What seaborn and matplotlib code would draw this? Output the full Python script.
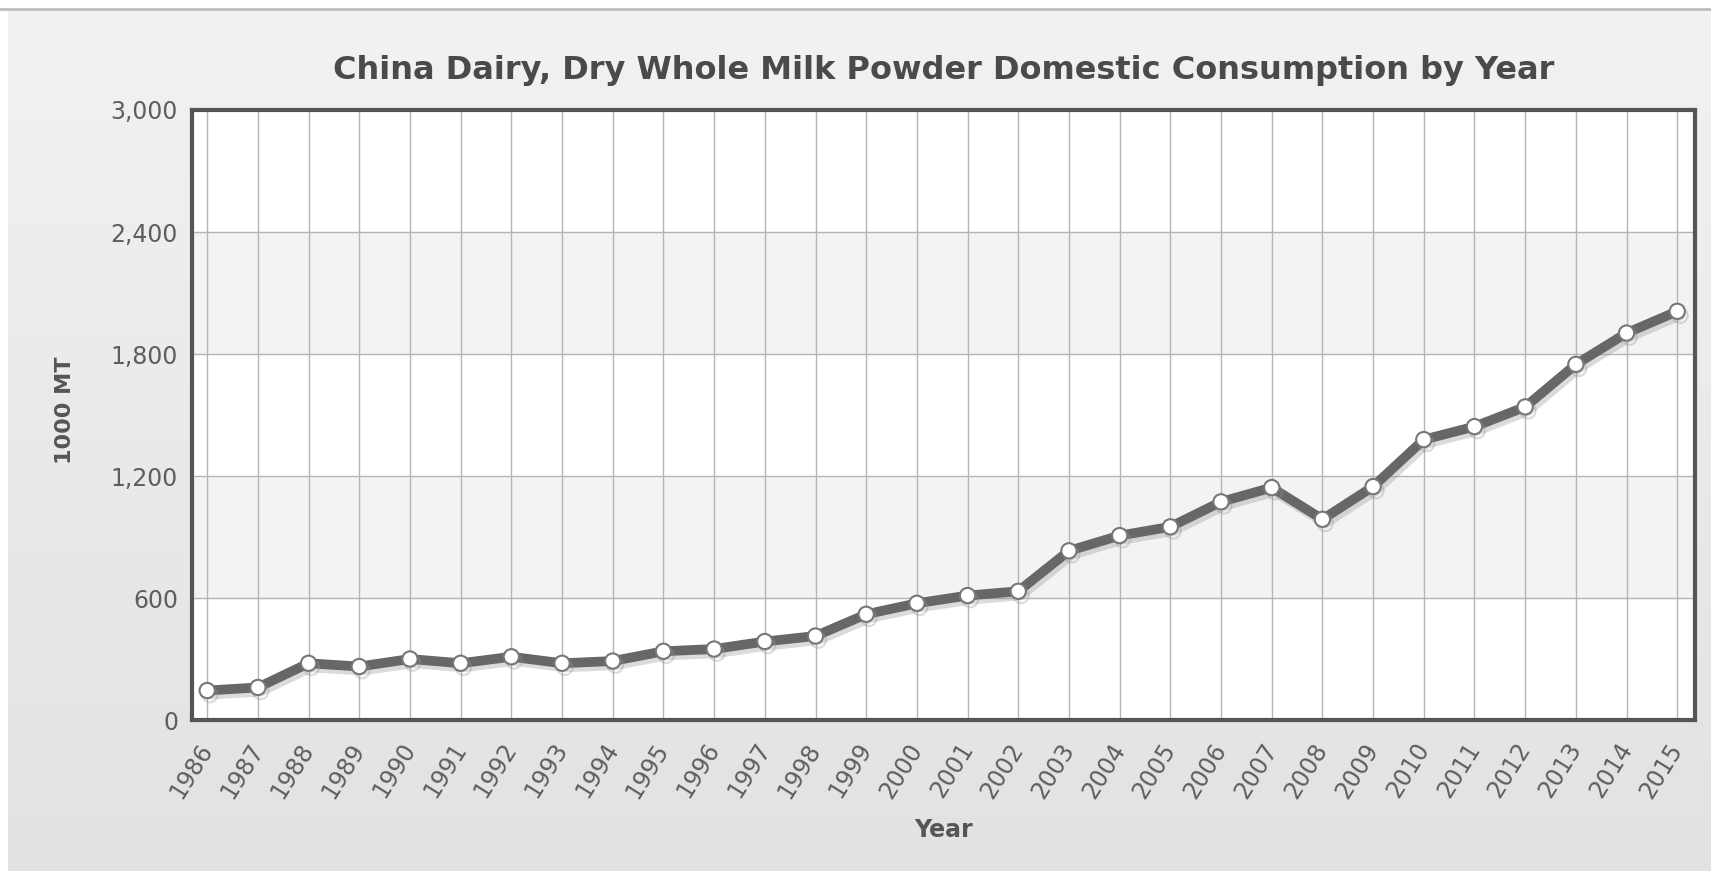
import numpy as np
import pandas as pd
import matplotlib.pyplot as plt
import matplotlib.patheffects as pe
from matplotlib.colors import LinearSegmentedColormap
from matplotlib.ticker import FuncFormatter
import seaborn as sns

# ── Data ────────────────────────────────────────────────────
years = list(range(1986, 2016))
consumption = [145, 160, 279, 263, 300, 279, 311, 279, 290, 338,
               349, 386, 413, 520, 574, 612, 633, 832, 907, 950,
               1073, 1143, 987, 1148, 1379, 1443, 1540, 1749, 1903, 2010]
y_ticks = [0, 600, 1200, 1800, 2400, 3000]

df = pd.DataFrame({"Year": years, "Consumption": consumption})

sns.set_style("white")
plt.rcParams["font.family"] = ["DejaVu Sans"]

fig = plt.figure(figsize=(17.11, 8.71), dpi=100)
fig.patch.set_facecolor("white")

# ── Panel background with soft vertical gradient ────────────
bg = fig.add_axes([8 / 1711, 0, 1 - 8 / 1711, 1 - 10 / 871], zorder=-10)
grad = np.linspace(0, 1, 256).reshape(-1, 1)
bg.imshow(grad, aspect="auto", extent=[0, 1, 0, 1], origin="upper",
          cmap=LinearSegmentedColormap.from_list("bg", ["#f2f2f2", "#e2e2e2"]))
bg.set_axis_off()
fig.add_artist(plt.Line2D([0, 1], [1 - 9 / 871, 1 - 9 / 871], color="#bdbdbd", lw=2,
                          transform=fig.transFigure))

# ── Main plot ───────────────────────────────────────────────
ax = fig.add_axes([192 / 1711, 1 - 720 / 871, (1695 - 192) / 1711, (720 - 110) / 871])
ax.set_facecolor("white")

# alternating bands
for lo, hi in [(600, 1200), (1800, 2400)]:
    ax.axhspan(lo, hi, color="#f3f3f3", zorder=0)

sns.lineplot(data=df, x="Year", y="Consumption", ax=ax, color="#676767",
             linewidth=7, marker="o", markersize=11, markerfacecolor="white",
             markeredgecolor="#777777", markeredgewidth=1.5, zorder=5,
             path_effects=[pe.SimpleLineShadow(offset=(2, -3), shadow_color="#999999", alpha=0.35),
                           pe.Normal()])

ax.set_xlim(1985.7, 2015.35)
ax.set_ylim(0, 3000)
ax.set_xticks(years)
ax.set_xticklabels([str(y) for y in years], rotation=58, ha="right", va="center",
                   rotation_mode="anchor", fontsize=17, color="#5e5e5e")
ax.set_yticks(y_ticks)
ax.yaxis.set_major_formatter(FuncFormatter(lambda v, p: f"{int(v):,}"))
ax.tick_params(axis="y", labelsize=17, labelcolor="#5e5e5e", length=0, pad=10)
ax.tick_params(axis="x", length=0, pad=18)

ax.grid(True, color="#b5b5b5", linewidth=1, zorder=1)
ax.set_axisbelow(True)
for s in ax.spines.values():
    s.set_color("#555555")
    s.set_linewidth(3)

ax.set_title("China Dairy, Dry Whole Milk Powder Domestic Consumption by Year",
             fontsize=23, fontweight="bold", color="#4a4a4a", pad=22)
ax.set_xlabel("Year", fontsize=17, fontweight="bold", color="#555555")
ax.set_ylabel("1000 MT", fontsize=16, fontweight="bold", color="#555555")
ax.xaxis.set_label_coords(0.5, -0.161)
ax.yaxis.set_label_coords(-0.078, 0.508)

fig.savefig("out.png", dpi=100)
